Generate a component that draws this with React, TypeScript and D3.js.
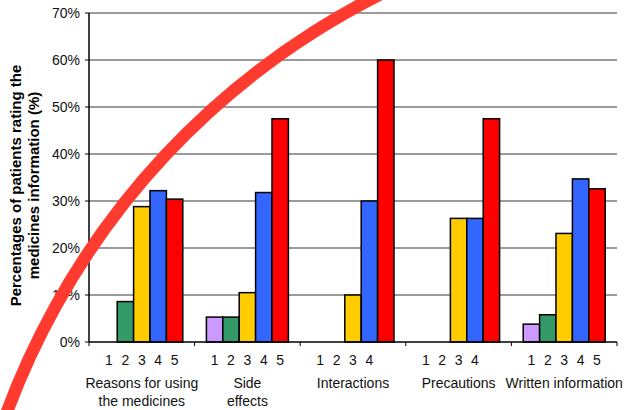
import React from "react";
import * as d3 from "d3";

const categories = ["Reasons for using the medicines", "Side effects", "Interactions", "Precautions", "Written information"];
const categoryLines = [["Reasons for using", "the medicines"], ["Side", "effects"], ["Interactions"], ["Precautions"], ["Written information"]];
const ratings = ["1", "2", "3", "4", "5"];
const rating1 = [0, 5.3, 0, 0, 3.8];
const rating2 = [8.6, 5.3, 0, 0, 5.8];
const rating3 = [28.8, 10.5, 10, 26.3, 23.1];
const rating4 = [32.2, 31.8, 30, 26.3, 34.7];
const rating5 = [30.4, 47.5, 60, 47.5, 32.6];
const ratingLabelsShown = [5, 5, 4, 4, 5];
const yTicks = [0, 10, 20, 30, 40, 50, 60, 70];
const colors = ["#cc99ff", "#339966", "#ffcc00", "#3366ff", "#ff0000"];

const W = 628, H = 410;
const left = 89, right = 617, top = 13, bottom = 342;
const FONT = "'Liberation Sans', Arial, sans-serif";

export default function App() {
  const series = [rating1, rating2, rating3, rating4, rating5];
  const x0 = d3.scaleBand<string>().domain(categories).range([left, right]).padding(0);
  const x1 = d3.scaleBand<string>().domain(ratings).range([0, x0.bandwidth()]).paddingInner(0).paddingOuter(0.72);
  const y = d3.scaleLinear().domain([0, 70]).range([bottom, top]);

  const p = d3.path();
  p.arc(723, 676, 763, Math.PI * 1.02, Math.PI * 1.62);

  return (
    <div style={{ position: "absolute", left: 0, top: 0 }}>
      <svg width={W} height={H} style={{ display: "block", fontFamily: FONT }}>
        <rect width={W} height={H} fill="#fff" />
        {yTicks.filter(t => t > 0).map(t => (
          <line key={"g" + t} x1={left} x2={right} y1={y(t)} y2={y(t)} stroke="#7a7a7a" strokeWidth={1.5} />
        ))}
        {yTicks.map(t => (
          <g key={"t" + t}>
            <line x1={left - 4} x2={left} y1={y(t)} y2={y(t)} stroke="#000" strokeWidth={1} />
            <text x={80} y={y(t)} dy="0.35em" textAnchor="end" fontSize={14} fill="#111">{t + "%"}</text>
          </g>
        ))}
        {categories.map((c, ci) =>
          series.map((s, ri) => {
            const v = s[ci];
            if (!v) return null;
            const bx = (x0(c) as number) + (x1(ratings[ri]) as number);
            return (
              <rect key={c + ri} x={bx} y={y(v)} width={x1.bandwidth()} height={y(0) - y(v)}
                fill={colors[ri]} stroke="#000" strokeWidth={1.5} />
            );
          })
        )}
        <line x1={left} x2={left} y1={top} y2={bottom} stroke="#000" strokeWidth={1.5} />
        <line x1={left} x2={right} y1={bottom} y2={bottom} stroke="#000" strokeWidth={1.5} />
        {[...categories.map(c => x0(c) as number), right].map((tx, i) => (
          <line key={"xt" + i} x1={tx} x2={tx} y1={bottom} y2={bottom + 4} stroke="#000" strokeWidth={1} />
        ))}
        {categories.map((c, ci) => (
          <g key={"lab" + c}>
            {ratings.slice(0, ratingLabelsShown[ci]).map(r => (
              <text key={r} x={(x0(c) as number) + (x1(r) as number) + x1.bandwidth() / 2} y={365}
                textAnchor="middle" fontSize={14} fill="#111">{r}</text>
            ))}
            {categoryLines[ci].map((ln, li) => (
              <text key={li} x={(x0(c) as number) + x0.bandwidth() / 2} y={388 + li * 18}
                textAnchor="middle" fontSize={14} fill="#111">{ln}</text>
            ))}
          </g>
        ))}
        <g transform="translate(21,185.5) rotate(-90)">
          <text x={0} y={0} textAnchor="middle" fontSize={15} fontWeight="bold" fill="#000">Percentages of patients rating the</text>
          <text x={0} y={18} textAnchor="middle" fontSize={15} fontWeight="bold" fill="#000">medicines information (%)</text>
        </g>
        <path d={p.toString()} fill="none" stroke="#ff3b30" strokeWidth={12.5} />
      </svg>
    </div>
  );
}
